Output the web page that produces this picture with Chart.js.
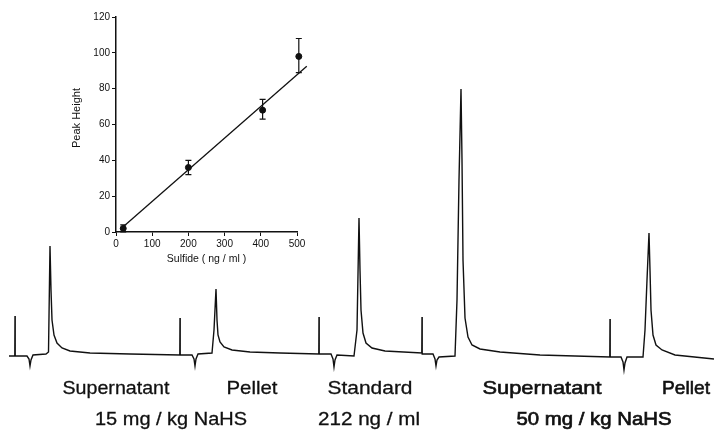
<!DOCTYPE html>
<html>
<head>
<meta charset="utf-8">
<script src="https://cdn.jsdelivr.net/npm/chart.js@4/dist/chart.umd.min.js"></script>
<style>
  body{margin:0;background:#fff;}
  #wrap{position:relative;width:714px;height:433px;}
  #traceChart{position:absolute;left:0;top:0;}
  #insetChart{position:absolute;left:60px;top:0;}
</style>
</head>
<body>
<div id="wrap">
  <canvas id="traceChart" width="714" height="433"></canvas>
  <canvas id="insetChart" width="260" height="280"></canvas>
</div>
<script>
/* ---- trace (detector signal vs time) ---- */
const traceTime = [
  9, 14.8, 15, 15.2, 27, 29, 30, 31, 33, 46, 48.5, 50, 51, 52, 54, 57, 62, 70, 90, 130,
  179.8, 180, 180.2, 192, 194, 195, 196, 198, 212, 214, 216, 217, 218, 220, 224, 232, 250, 280,
  318.8, 319, 319.2, 331, 333, 334, 335, 337, 354, 357, 359, 360, 361, 363, 366, 372, 385,
  421.8, 422, 422.2, 433, 435, 436, 437, 439, 455, 457, 459, 461, 462, 463, 465, 468, 472, 480, 500, 540,
  609.8, 610, 610.2, 621, 623, 624, 625, 627, 643, 645, 647, 649, 650, 651, 653, 656, 662, 675, 714
];
const traceSignal = [
  0, 0, 40, 0, 0, -3, -10, -4, 1, 2, 4, 110, 66, 36, 21, 13, 8, 5, 3, 2,
  1, 38, 1, 1, -3, -10, -3, 2, 3, 26, 67, 36, 21, 14, 9, 6, 4, 3,
  2, 39, 2, 2, -3, -11, -4, 1, 0, 26, 138, 86, 46, 23, 13, 8, 5,
  3, 39, 2, 2, -3, -10, -4, -1, 0, 56, 176, 267, 196, 96, 38, 19, 11, 7, 4, 1,
  -1, 37, -1, -1, -6, -14, -7, -1, -1, 26, 76, 123, 86, 46, 21, 11, 6, 1, -3
];

const sampleNames = ["Supernatant", "Pellet", "Standard", "Supernatant", "Pellet"];
const groupNames = ["15 mg / kg NaHS", "212 ng / ml", "50 mg / kg NaHS"];

/* ---- inset calibration ---- */
const sulfide = [20, 200, 405, 505];
const peakHeight = [2, 36, 68, 98];
const errLow = [0, 32, 63, 89];
const errHigh = [4, 40, 74, 108];
const fitX = [12, 527];
const fitY = [1.5, 92.5];
const xTicks = [0, 100, 200, 300, 400, 500];
const yTicks = [0, 20, 40, 60, 80, 100, 120];

const INK = "#111";
const FONT = "'Liberation Sans', Arial, sans-serif";

// where the captions sit (centre on the time axis, printed width, stroke weight)
const sampleLayout = [
  {at: 116, w: 107, heavy: 0.3},
  {at: 252, w: 51, heavy: 0.3},
  {at: 370, w: 85, heavy: 0.3},
  {at: 542, w: 119, heavy: 0.6},
  {at: 686, w: 48, heavy: 0.6}
];
const groupLayout = [
  {at: 171, w: 152, heavy: 0.3},
  {at: 369, w: 102, heavy: 0.3},
  {at: 594, w: 155, heavy: 0.7}
];


const labelPlugin = {
  id: "labels",
  afterDraw(chart){
    const ctx = chart.ctx;
    const x = chart.scales.x;
    const put = (txt, lay, base) => {
      ctx.save();
      ctx.font = "19px " + FONT;
      ctx.fillStyle = INK;
      ctx.strokeStyle = INK;
      ctx.textAlign = "center";
      ctx.textBaseline = "alphabetic";
      const k = lay.w / ctx.measureText(txt).width;
      ctx.translate(x.getPixelForValue(lay.at), base);
      ctx.scale(k, 1);
      ctx.lineWidth = lay.heavy;
      ctx.fillText(txt, 0, 0);
      ctx.strokeText(txt, 0, 0);
      ctx.restore();
    };
    sampleNames.forEach((n, i) => put(n, sampleLayout[i], 394));
    groupNames.forEach((n, i) => put(n, groupLayout[i], 425));
  }
};

new Chart(document.getElementById("traceChart"), {
  type: "line",
  data: {
    datasets: [{
      data: traceTime.map((t, i) => ({x: t, y: traceSignal[i]})),
      borderColor: INK,
      borderWidth: 1.4,
      pointRadius: 0,
      tension: 0
    }]
  },
  options: {
    responsive: false,
    animation: false,
    layout: {padding: 0},
    plugins: {legend: {display: false}, tooltip: {enabled: false}},
    scales: {
      x: {type: "linear", min: 0, max: 714, display: false},
      y: {min: -77, max: 356, display: false}
    }
  },
  plugins: [labelPlugin]
});


const errorBarPlugin = {
  id: "errbars",
  afterDatasetsDraw(chart){
    const ctx = chart.ctx;
    const x = chart.scales.x, y = chart.scales.y;
    ctx.save();
    ctx.strokeStyle = INK;
    ctx.lineWidth = 1.2;
    sulfide.forEach((s, i) => {
      const px = x.getPixelForValue(s);
      const lo = y.getPixelForValue(errLow[i]);
      const hi = y.getPixelForValue(errHigh[i]);
      ctx.beginPath();
      ctx.moveTo(px, lo); ctx.lineTo(px, hi);
      ctx.moveTo(px - 3, lo); ctx.lineTo(px + 3, lo);
      ctx.moveTo(px - 3, hi); ctx.lineTo(px + 3, hi);
      ctx.stroke();
    });
    // y axis title, a bit above the middle as in the print
    ctx.translate(17, 118);
    ctx.rotate(-Math.PI / 2);
    ctx.font = "11px " + FONT;
    ctx.fillStyle = INK;
    ctx.textAlign = "center";
    ctx.textBaseline = "middle";
    ctx.fillText("Peak Height", 0, 0);
    ctx.restore();
  }
};

const tickFont = {family: FONT, size: 10};

new Chart(document.getElementById("insetChart"), {
  type: "scatter",
  data: {
    datasets: [
      {
        type: "line",
        data: fitX.map((v, i) => ({x: v, y: fitY[i]})),
        borderColor: INK,
        borderWidth: 1.3,
        pointRadius: 0,
        clip: false
      },
      {
        data: sulfide.map((v, i) => ({x: v, y: peakHeight[i]})),
        backgroundColor: INK,
        borderColor: INK,
        pointRadius: 3,
        clip: false
      }
    ]
  },
  options: {
    responsive: false,
    animation: false,
    layout: {padding: {left: 0, top: 17, right: 23, bottom: 0}},
    plugins: {legend: {display: false}, tooltip: {enabled: false}},
    scales: {
      x: {
        type: "linear", min: 0, max: 500,
        afterBuildTicks: s => { s.ticks = xTicks.map(v => ({value: v})); },
        afterFit: s => { s.height = 48; },
        border: {display: true, color: INK, width: 1.5},
        grid: {drawOnChartArea: false, drawTicks: true, tickLength: 4, color: INK},
        ticks: {color: INK, font: tickFont, padding: 2, maxRotation: 0},
        title: {display: true, text: "Sulfide ( ng / ml )", color: INK,
                font: {family: FONT, size: 10.5}, padding: {top: 2, bottom: 15}}
      },
      y: {
        min: 0, max: 120,
        afterBuildTicks: s => { s.ticks = yTicks.map(v => ({value: v})); },
        afterFit: s => { s.width = 56; },
        border: {display: true, color: INK, width: 1.5},
        grid: {drawOnChartArea: false, drawTicks: true, tickLength: 4, color: INK},
        ticks: {color: INK, font: tickFont, padding: 2}
      }
    }
  },
  plugins: [errorBarPlugin]
});
</script>
</body>
</html>
